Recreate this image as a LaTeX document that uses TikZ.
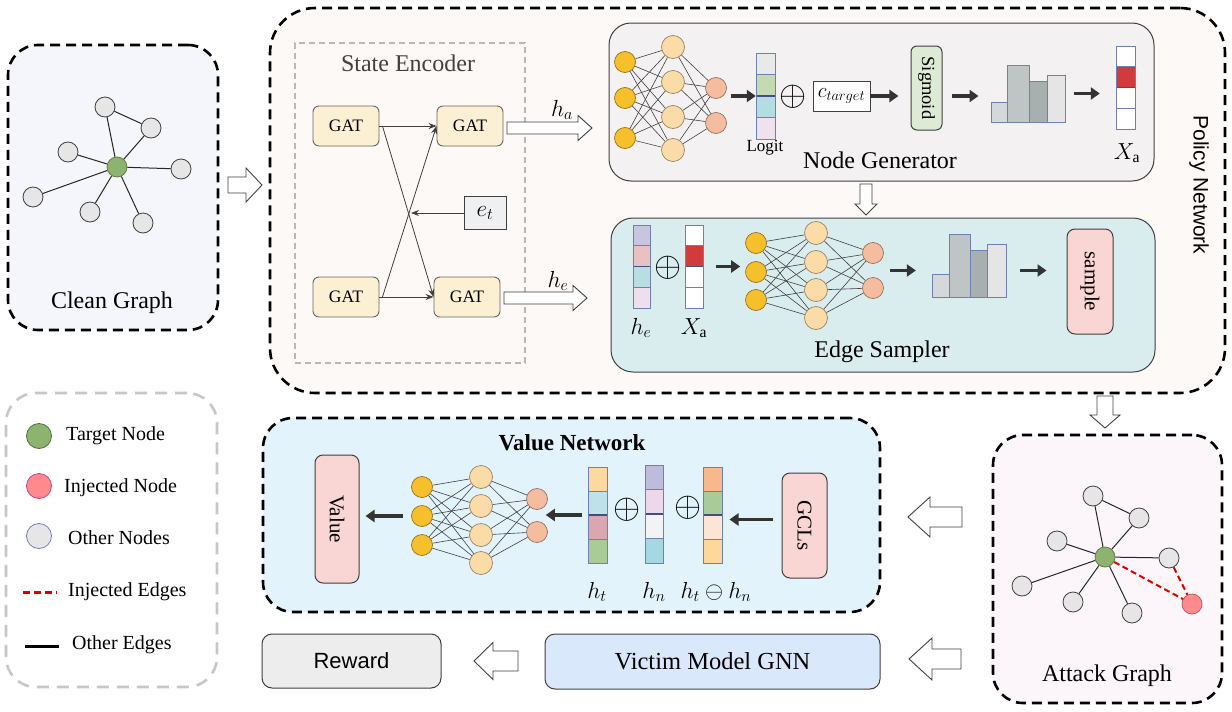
\documentclass[tikz,border=0pt]{standalone}
\usepackage{fontspec}
\setmainfont{Liberation Serif}
\setsansfont{Liberation Sans}
\usetikzlibrary{arrows.meta,calc}

\definecolor{pnfill}{HTML}{FDF9F6}
\definecolor{cgfill}{HTML}{F5F6FB}
\definecolor{agfill}{HTML}{FCF5FA}
\definecolor{vnfill}{HTML}{E2F3FB}
\definecolor{ngfill}{HTML}{F3F1F1}
\definecolor{esfill}{HTML}{D9EDEF}
\definecolor{gatfill}{HTML}{FBF0D3}
\definecolor{pinkbox}{HTML}{F9D5D3}
\definecolor{sigfill}{HTML}{DDEBD5}
\definecolor{vicfill}{HTML}{DAE8FC}
\definecolor{rewfill}{HTML}{EDEDED}
\definecolor{etfill}{HTML}{EEF0F2}
\definecolor{tgreen}{HTML}{8DB36E}
\definecolor{ngrey}{HTML}{E6E6E6}
\definecolor{injred}{HTML}{FF8A8E}
\definecolor{nnin}{HTML}{F6C02C}
\definecolor{nnhid}{HTML}{FBDCA8}
\definecolor{nnout}{HTML}{F6BCA0}
\definecolor{vecb}{HTML}{6F7FAF}
\definecolor{vecdk}{HTML}{3F4F7F}
\definecolor{dk}{HTML}{404040}
\definecolor{bara}{HTML}{D4D8DA}
\definecolor{barb}{HTML}{BFC5C5}
\definecolor{barc}{HTML}{A8AFAF}
\definecolor{bard}{HTML}{E5E5E6}
\definecolor{xred}{HTML}{D23B3B}
\definecolor{lgA}{HTML}{E8EAEA}\definecolor{lgB}{HTML}{C5D9B2}\definecolor{lgC}{HTML}{B4DDE2}\definecolor{lgD}{HTML}{EFE2EE}
\definecolor{heA}{HTML}{C7C6DE}\definecolor{heB}{HTML}{EAC1C2}\definecolor{heC}{HTML}{B8DEE2}\definecolor{heD}{HTML}{EDDFEC}
\definecolor{htA}{HTML}{FDD89F}\definecolor{htB}{HTML}{BEE1EA}\definecolor{htC}{HTML}{D8A7B0}\definecolor{htD}{HTML}{A9CB97}
\definecolor{hnA}{HTML}{BEBCDC}\definecolor{hnB}{HTML}{EDD8EB}\definecolor{hnC}{HTML}{F3F3F3}\definecolor{hnD}{HTML}{A6D8E1}
\definecolor{hdA}{HTML}{F7B88B}\definecolor{hdB}{HTML}{A9CB97}\definecolor{hdC}{HTML}{FCE4D7}\definecolor{hdD}{HTML}{FDD89A}

\tikzset{
 bigdash/.style={draw=black, line width=2.6pt, dash pattern=on 10pt off 6pt, inner sep=0pt},
 greydash/.style={draw=black!28, line width=2pt, dash pattern=on 6pt off 4pt, inner sep=0pt},
 legdash/.style={draw=black!22, line width=2.6pt, dash pattern=on 12pt off 8pt, inner sep=0pt},
 panel/.style={draw=dk, line width=1pt, rounded corners=22pt, inner sep=0pt},
 gat/.style={draw=dk!80, fill=gatfill, rounded corners=6pt, minimum width=66pt, minimum height=40pt, line width=0.9pt, inner sep=0pt, font=\fontsize{17.5}{20}\selectfont},
 gn/.style={circle, draw=dk, fill=ngrey, minimum size=20pt, inner sep=0pt, line width=0.8pt},
 tn/.style={gn, fill=tgreen, draw=tgreen!70!black},
 inj/.style={gn, fill=injred, draw=injred!70!black},
 ge/.style={draw=black!85, line width=1pt},
 re/.style={draw=red!85!black, line width=2pt, dash pattern=on 6pt off 3.5pt},
 nin/.style={circle, draw=nnin!60!black, fill=nnin, minimum size=21pt, inner sep=0pt, line width=0.7pt},
 nhid/.style={circle, draw=nnhid!60!black, fill=nnhid, minimum size=23pt, inner sep=0pt, line width=0.7pt},
 nout/.style={circle, draw=nnout!60!black, fill=nnout, minimum size=21pt, inner sep=0pt, line width=0.7pt},
 nne/.style={draw=black!75, line width=0.6pt},
 tarr/.style={draw=dk, line width=0.8pt, -{Stealth[length=8pt,width=6pt]}},
 karr/.style={draw=black!80, line width=3.5pt, -{Triangle[length=9pt,width=12pt]}},
 harr/.style={draw=dk, fill=white, line width=0.9pt, line join=miter},
 rbox/.style={draw=dk, line width=1pt, rounded corners=8pt, inner sep=0pt},
 big/.style={font=\fontsize{24}{28}\selectfont},
 leg/.style={font=\fontsize{20}{24}\selectfont, anchor=west, inner sep=0pt},
 mlab/.style={font=\fontsize{20}{24}\selectfont, scale=1.12},
 opl/.style={font=\fontsize{24}{28}\selectfont, scale=1.4},
}

% hollow block arrow: start coord, rotation, length, shaft half, head half, head length
\newcommand{\harrow}[6]{%
  \draw[harr, shift={#1}, rotate=#2] (0,-#4) -- ({#3-#6},-#4) -- ({#3-#6},-#5) -- (#3,0) -- ({#3-#6},#5) -- ({#3-#6},#4) -- (0,#4) -- cycle;}

% feature vector: name, cx, top, width, height, four colours
\newcommand{\fvec}[9]{%
  \pgfmathsetmacro{\vhw}{#4/2}%
  \pgfmathsetmacro{\vch}{#5/4}%
  \fill[#6] (#2-\vhw,#3) rectangle (#2+\vhw,#3+\vch);
  \fill[#7] (#2-\vhw,#3+\vch) rectangle (#2+\vhw,#3+2*\vch);
  \fill[#8] (#2-\vhw,#3+2*\vch) rectangle (#2+\vhw,#3+3*\vch);
  \fill[#9] (#2-\vhw,#3+3*\vch) rectangle (#2+\vhw,#3+#5);
  \draw[vecb, line width=0.8pt] (#2-\vhw,#3+\vch) -- (#2+\vhw,#3+\vch) (#2-\vhw,#3+3*\vch) -- (#2+\vhw,#3+3*\vch);
  \draw[vecdk, line width=1.2pt] (#2-\vhw,#3+2*\vch) -- (#2+\vhw,#3+2*\vch);
  \draw[vecb, line width=0.9pt] (#2-\vhw,#3) rectangle (#2+\vhw,#3+#5);
  \node[inner sep=0pt, minimum width=#4pt, minimum height=#5pt] (#1) at (#2,#3+#5/2) {};
}

\begin{document}
\begin{tikzpicture}[x=1pt,y=-1pt]
\useasboundingbox (0,0) rectangle (1232,712);
\fill[white] (0,0) rectangle (1232,712);

% ---------- big frames ----------
\node[bigdash, fill=pnfill, rounded corners=45pt, minimum width=955pt, minimum height=385pt] (policy) at (747.5,200.5) {};
\node[bigdash, fill=cgfill, rounded corners=30pt, minimum width=210pt, minimum height=285pt] (clean) at (113,187.5) {};
\node[legdash, fill=white, rounded corners=30pt, minimum width=211pt, minimum height=294pt] (legend) at (111.5,540) {};
\node[bigdash, fill=vnfill, rounded corners=30pt, minimum width=617pt, minimum height=194pt] (value) at (571.5,515) {};
\node[bigdash, fill=agfill, rounded corners=30pt, minimum width=229pt, minimum height=268pt] (attack) at (1107.5,569) {};

% ---------- clean graph ----------
\node[tn] (c0) at (117,167) {};
\node[gn] (c1) at (105,107) {};
\node[gn] (c2) at (151,128) {};
\node[gn] (c3) at (68,152) {};
\node[gn] (c4) at (181,169) {};
\node[gn] (c5) at (33,197) {};
\node[gn] (c6) at (90,212) {};
\node[gn] (c7) at (143,223) {};
\draw[ge] (c0)--(c1) (c1)--(c2) (c2)--(c0) (c3)--(c0) (c4)--(c0) (c5)--(c0) (c6)--(c0) (c7)--(c0);
\node[big] at (112,303) {Clean Graph};

% ---------- attack graph ----------
\node[tn] (a0) at (1105,557) {};
\node[gn] (a1) at (1093,496) {};
\node[gn] (a2) at (1139,518) {};
\node[gn] (a3) at (1057,541) {};
\node[gn] (a4) at (1169,558) {};
\node[gn] (a5) at (1022,586) {};
\node[gn] (a6) at (1073,602) {};
\node[gn] (a7) at (1132,613) {};
\node[inj] (ar) at (1192,604) {};
\draw[ge] (a0)--(a1) (a1)--(a2) (a2)--(a0) (a3)--(a0) (a4)--(a0) (a5)--(a0) (a6)--(a0) (a7)--(a0);
\draw[re] (a0)--(ar) (a4)--(ar);
\node[big] at (1107,676) {Attack Graph};

% ---------- legend ----------
\node[circle, minimum size=25pt, inner sep=0pt, fill=tgreen, draw=tgreen!60!black, line width=0.8pt] (lg1) at (39,436) {};
\node[circle, minimum size=25pt, inner sep=0pt, fill=injred, draw=injred!50!violet, line width=0.8pt] (lg2) at (39,486) {};
\node[circle, minimum size=25pt, inner sep=0pt, fill=ngrey, draw=vecb, line width=0.8pt] (lg3) at (39,536) {};
\coordinate (lg4a) at (23,592); \coordinate (lg4b) at (57,592);
\coordinate (lg5a) at (25,646); \coordinate (lg5b) at (59,646);
\draw[draw=red!85!black, line width=3pt, dash pattern=on 7pt off 4pt] (lg4a) -- (lg4b);
\draw[black, line width=3pt] (lg5a) -- (lg5b);
\node[leg] at (66,436) {Target Node};
\node[leg] at (64,488) {Injected Node};
\node[leg] at (68,538) {Other Nodes};
\node[leg] at (68,592) {Injected Edges};
\node[leg] at (72,645) {Other Edges};

% ---------- state encoder ----------
\node[greydash, minimum width=230pt, minimum height=320pt] (se) at (410,203) {};
\node[big, text=dk] at (408,63) {State Encoder};
\node[gat] (g1) at (346,126) {GAT};
\node[gat] (g2) at (470,126) {GAT};
\node[gat] (g3) at (346,297) {GAT};
\node[gat] (g4) at (467,297) {GAT};
\draw[tarr] (g1.east) -- (g2.west);
\draw[tarr] (g3.east) -- (g4.west);
\draw[tarr] ([xshift=3pt]g1.east) -- (g4.west);
\draw[tarr] ([xshift=3pt]g3.east) -- (g2.west);
\node[draw=dk, fill=etfill, minimum width=42pt, minimum height=33pt, inner sep=0pt, line width=0.9pt] (et) at (485,213) {};
\node[mlab] at (et.center) {$e_t$};
\coordinate (cross) at (411,213);
\draw[tarr] (et.west) -- (cross);
\harrow{(507,128)}{0}{85}{6}{12.5}{14}
\harrow{(504,298)}{0}{83}{6}{12.5}{14}
\node[mlab] at (562,110) {$h_a$};
\node[mlab] at (558,281) {$h_e$};

% ---------- node generator ----------
\node[panel, fill=ngfill, minimum width=545pt, minimum height=158pt] (ng) at (881.5,102) {};
\foreach \i/\y in {1/62,2/98,3/138} \node[nin] (ngA\i) at (625,\y) {};
\foreach \i/\y in {1/47,2/82,3/117,4/150} \node[nhid] (ngB\i) at (673,\y) {};
\foreach \i/\y in {1/88,2/123} \node[nout] (ngC\i) at (716,\y) {};
\foreach \i in {1,2,3} \foreach \j in {1,...,4} \draw[nne] (ngA\i) -- (ngB\j);
\foreach \j in {1,...,4} \foreach \k in {1,2} \draw[nne] (ngB\j) -- (ngC\k);
\fvec{logit}{765.5}{53}{19}{86}{lgA}{lgB}{lgC}{lgD}
\draw[karr] ($(logit.west)+(-25,0)$) -- (logit.west);
\node[font=\fontsize{17}{20}\selectfont] at (765,148) {Logit};
\node[opl] at (793,97) {$\oplus$};
\node[draw=dk, fill=white, line width=0.9pt, minimum width=57pt, minimum height=30pt, inner sep=0pt] (ct) at (841.5,96) {};
\node[font=\fontsize{17}{20}\selectfont, scale=1.2] at (ct.center) {$c_{target}$};
\node[rbox, fill=sigfill, minimum width=31pt, minimum height=84pt, rounded corners=6pt] (sig) at (926.5,88) {};
\node[rotate=-90, font=\fontsize{18.5}{20}\selectfont] at (sig.center) {Sigmoid};
\draw[karr] (ct.east) -- ++(28,0);
\draw[karr] ($(sig.east)+(9,8)$) -- ++(27,0);
\draw[vecb, line width=0.9pt, fill=bara] (991,102) rectangle (1007,122);
\draw[vecb, line width=0.9pt, fill=barb] (1007,65) rectangle (1029,122);
\draw[vecb, line width=0.9pt, fill=barc] (1029,81) rectangle (1047,122);
\draw[vecb, line width=0.9pt, fill=bard] (1047,75) rectangle (1065,122);
\fvec{xa1}{1125.5}{46}{19}{83}{white}{xred}{white}{white}
\draw[karr] ($(xa1.west)+(-42,6)$) -- ++(26,0);
\node[mlab] at (1127,153) {$X_{\mathrm{a}}$};
\node[big] at (880,160) {Node Generator};

\harrow{(866,184)}{-90}{31}{6}{11}{11}

% ---------- edge sampler ----------
\node[panel, fill=esfill, minimum width=544pt, minimum height=154pt] (es) at (883,295) {};
\fvec{he}{641.5}{225}{17}{83}{heA}{heB}{heC}{heD}
\node[opl] at (668,268) {$\oplus$};
\fvec{xa2}{694}{225}{18}{83}{white}{xred}{white}{white}
\node[mlab] at (641,328) {$h_e$};
\node[mlab] at (694,328) {$X_{\mathrm{a}}$};
\draw[karr] ($(xa2.east)+(13,0)$) -- ++(24,0);
\foreach \i/\y in {1/243,2/272,3/300} \node[nin] (esA\i) at (756,\y) {};
\foreach \i/\y in {1/233,2/262,3/290,4/318} \node[nhid] (esB\i) at (816,\y) {};
\foreach \i/\y in {1/253,2/288} \node[nout] (esC\i) at (873,\y) {};
\foreach \i in {1,2,3} \foreach \j in {1,...,4} \draw[nne] (esA\i) -- (esB\j);
\foreach \j in {1,...,4} \foreach \k in {1,2} \draw[nne] (esB\j) -- (esC\k);
\draw[karr] ($(esC1.east)!0.5!(esC2.east)+(6,0)$) -- ++(26,0);
\draw[vecb, line width=0.9pt, fill=bara] (932,274) rectangle (949,297);
\draw[vecb, line width=0.9pt, fill=barb] (949,234) rectangle (970,297);
\draw[vecb, line width=0.9pt, fill=barc] (970,250) rectangle (987,297);
\draw[vecb, line width=0.9pt, fill=bard] (987,244) rectangle (1006,297);
\node[rbox, fill=pinkbox, minimum width=46pt, minimum height=105pt, rounded corners=8pt] (sample) at (1090,281.5) {};
\node[rotate=-90, font=\fontsize{21}{24}\selectfont] at (sample.center) {sample};
\draw[karr] ($(sample.west)+(-47,-11)$) -- ++(27,0);
\node[big] at (882,352) {Edge Sampler};

\node[rotate=-90, font=\sffamily\fontsize{21}{24}\selectfont] at (1199,185) {Policy Network};

\harrow{(1105,396)}{-90}{32}{8}{15}{13}
\harrow{(228,185)}{0}{34}{8}{17}{16}

% ---------- value network ----------
\node[font=\bfseries\fontsize{23}{26}\selectfont] at (572,443) {Value Network};
\node[rbox, fill=pinkbox, minimum width=44pt, minimum height=128pt] (valbox) at (337,519) {};
\node[rotate=-90, font=\fontsize{21}{24}\selectfont] at (valbox.center) {Value};
\foreach \i/\y in {1/487,2/516,3/545} \node[nin] (vnA\i) at (422,\y) {};
\foreach \i/\y in {1/477,2/506,3/535,4/563} \node[nhid] (vnB\i) at (481,\y) {};
\foreach \i/\y in {1/499,2/532} \node[nout] (vnC\i) at (537,\y) {};
\foreach \i in {1,2,3} \foreach \j in {1,...,4} \draw[nne] (vnA\i) -- (vnB\j);
\foreach \j in {1,...,4} \foreach \k in {1,2} \draw[nne] (vnB\j) -- (vnC\k);
\draw[karr] ($(vnA2.west)+(-8,0)$) -- ($(valbox.east |- vnA2.west)+(6,0)$);
\fvec{ht}{597.5}{467}{19}{96}{htA}{htB}{htC}{htD}
\node[opl] at (627,510) {$\oplus$};
\fvec{hn}{654}{465}{18}{98}{hnA}{hnB}{hnC}{hnD}
\node[opl] at (688,508) {$\oplus$};
\fvec{hd}{712.5}{467}{19}{96}{hdA}{hdB}{hdC}{hdD}
\draw[karr] ($(ht.west)+(-6,0)$) -- ++(-36,0);
\node[rbox, fill=pinkbox, minimum width=45pt, minimum height=105pt] (gcl) at (804.5,525.5) {};
\node[rotate=-90, font=\fontsize{21}{24}\selectfont] at (gcl.center) {GCLs};
\draw[karr] ($(gcl.west)+(-9,-6)$) -- ++(-43,0);
\node[mlab] at (597,592) {$h_t$};
\node[mlab] at (654,592) {$h_n$};
\node[mlab] at (716,592) {$h_t \ominus h_n$};

% ---------- bottom row ----------
\node[rbox, fill=rewfill, minimum width=179pt, minimum height=54pt, rounded corners=10pt, font=\sffamily\fontsize{22}{26}\selectfont] (reward) at (351.5,661) {Reward};
\node[rbox, fill=vicfill, minimum width=335pt, minimum height=55pt, rounded corners=10pt, font=\fontsize{24.5}{28}\selectfont] (victim) at (712.5,661.5) {Victim Model GNN};
\harrow{(518,661)}{180}{44}{10}{18.5}{19}
\harrow{(961,659)}{180}{52}{10}{21}{23}
\harrow{(962,517)}{180}{54}{10}{20}{22}

\end{tikzpicture}
\end{document}
